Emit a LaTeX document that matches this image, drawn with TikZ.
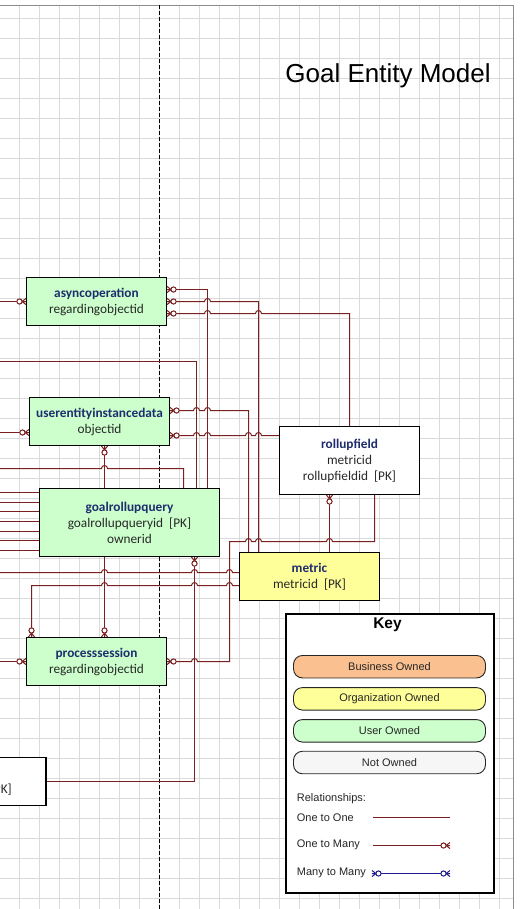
\documentclass[tikz,border=0pt]{standalone}
\usepackage{fontspec}
\setmainfont{Carlito}
\newfontfamily\arialf{Liberation Sans}
\usetikzlibrary{calc}

\definecolor{relc}{RGB}{122,32,32}
\definecolor{navy}{RGB}{31,45,110}
\definecolor{ugreen}{RGB}{204,255,204}
\definecolor{oyellow}{RGB}{255,255,153}
\definecolor{borange}{RGB}{250,192,144}
\definecolor{nowhite}{RGB}{246,246,246}
\definecolor{gridc}{RGB}{218,218,218}
\definecolor{fieldc}{RGB}{40,40,40}
\definecolor{kblue}{RGB}{30,30,140}

\newcommand{\J}[2]{-- ({#1-3},#2) arc[start angle=180,end angle=360,radius=3]}

\tikzset{
  relline/.style={draw=relc, line width=1bp},
  gridline/.style={draw=gridc, line width=0.7bp},
  ent/.style={draw=black, line width=1.1bp, inner sep=0pt, align=center, text=fieldc,
              font=\fontsize{13.3bp}{16bp}\selectfont},
  pill/.style={draw=black!85, line width=0.9bp, rounded corners=9bp, minimum width=192bp,
               minimum height=22.5bp, inner sep=0pt, text=black!85,
               font=\arialf\fontsize{11bp}{13bp}\selectfont},
  keytext/.style={anchor=west, inner sep=0pt, text=black!85,
               font=\arialf\fontsize{11bp}{13bp}\selectfont},
  many/.pic={
    \draw[draw=relc, line width=1bp] (4,0) -- (0,-3) (4,0) -- (0,3) (0,0) -- (4,0);
    \draw[draw=relc, line width=1bp, fill=white] (6.5,0) circle[radius=2.6];
  },
  manyb/.pic={
    \draw[draw=kblue, line width=1bp] (4,0) -- (0,-3) (4,0) -- (0,3) (0,0) -- (4,0);
    \draw[draw=kblue, line width=1bp, fill=white] (6.5,0) circle[radius=2.6];
  }
}

\newcommand{\ttl}[1]{\textcolor{navy}{\textbf{#1}}}

\begin{document}
\begin{tikzpicture}[x=1bp,y=-1bp]
\path[use as bounding box] (0,0) rectangle (524,909);
\clip (0,0) rectangle (524,909);
\fill[white] (0,0) rectangle (524,909);

% grid
\foreach \i in {0,...,24} { \draw[gridline] ({19.5+20*\i},5) -- ({19.5+20*\i},909); }
\foreach \j in {0,...,44} { \draw[gridline] (0,{18.5+20*\j}) -- (513,{18.5+20*\j}); }
\draw[draw=black!45, line width=0.8bp] (0,5.5) -- (513.5,5.5) -- (513.5,909);
% page break
\draw[black, line width=0.8bp, dash pattern=on 4bp off 2bp] (159.5,5) -- (159.5,909);

% title
\node[font=\arialf\fontsize{26bp}{30bp}\selectfont, inner sep=0pt] (T) at (388,76) {Goal Entity Model};

% entities
\node[ent, fill=ugreen, minimum width=140bp, minimum height=48bp] (AO) at (96.5,301.5)
  {\ttl{asyncoperation}\\regardingobjectid};
\node[ent, fill=ugreen, minimum width=140bp, minimum height=48bp] (UE) at (99.5,421.5)
  {\ttl{userentityinstancedata}\\objectid};
\node[ent, fill=ugreen, minimum width=180bp, minimum height=68bp] (GR) at (129.5,522.5)
  {\ttl{goalrollupquery}\\goalrollupqueryid~~[PK]\\ownerid};
\node[ent, fill=oyellow, minimum width=140bp, minimum height=48bp] (ME) at (309.5,576.5)
  {\ttl{metric}\\metricid~~[PK]};
\node[ent, fill=white, minimum width=140bp, minimum height=68bp] (RF) at (349.5,460.5)
  {\ttl{rollupfield}\\metricid\\rollupfieldid~~[PK]};
\node[ent, fill=ugreen, minimum width=140bp, minimum height=48bp] (PS) at (96.5,661.5)
  {\ttl{processsession}\\regardingobjectid};
\node[ent, fill=white, minimum width=200bp, minimum height=48bp, anchor=east] (SU) at (46.5,781.5) {};
\node[anchor=east, inner sep=0pt, text=fieldc, font=\fontsize{13.3bp}{16bp}\selectfont] (SUt) at (12,789.5) {[PK]};

% off-page ends
\coordinate (L1) at (0,301.5);
\coordinate (L2) at (0,361.5);
\coordinate (L3) at (0,432.5);
\coordinate (L4) at (0,468.5);
\coordinate (L12) at (0,572.5);
\coordinate (L13) at (0,661.5);

% connectors
\draw[relline] (L1) -- (AO.west |- L1);
\draw[relline] (AO.east |- 0,289.5) -| (207.5,0 |- GR.north);
\draw[relline] (AO.east |- 0,301.5) \J{207.5}{301.5} -| (258.5,0 |- ME.north);
\draw[relline] (AO.east |- 0,313.5) \J{207.5}{313.5} \J{258.5}{313.5} -| (RF.north);
\draw[relline] (L2) -| (196.5,0 |- GR.north);
\draw[relline] (L3) -- (UE.west |- L3);
\draw[relline] (UE.east |- 0,410.5) \J{196.5}{410.5} \J{207.5}{410.5} -| (248.5,0 |- ME.north);
\draw[relline] (UE.east |- 0,435.5) \J{196.5}{435.5} \J{207.5}{435.5} \J{248.5}{435.5} \J{258.5}{435.5} -- (RF.west |- 0,435.5);
\draw[relline] (104.5,0 |- UE.south) -- (104.5,0 |- GR.north);
\draw[relline] (L4) \J{104.5}{468.5} -| (183.5,0 |- GR.north);
\foreach \yy [count=\k] in {492.5,502.5,511.5,521.5,531.5,540.5,550.5} {
  \coordinate (G\k) at (0,\yy);
  \draw[relline] (G\k) -- (GR.west |- G\k);
}
\draw[relline] (104.5,0 |- GR.south) -- (104.5,0 |- PS.north);
\draw[relline] (194.5,0 |- GR.south) |- (SU.east);
\draw[relline] (L12) \J{104.5}{572.5} \J{194.5}{572.5} \J{229.5}{572.5} -- (ME.west |- L12);
\draw[relline] (31.5,0 |- PS.north) -- (31.5,585.5) \J{104.5}{585.5} \J{194.5}{585.5} \J{229.5}{585.5} -- (ME.west |- 0,585.5);
\draw[relline] (L13) -- (PS.west);
\draw[relline] (PS.east) \J{194.5}{661.5} -- (229.5,661.5) -- (229.5,541.5) \J{248.5}{541.5} \J{258.5}{541.5} \J{329.5}{541.5} -| (374.5,0 |- RF.south);
\draw[relline] (329.5,0 |- RF.south) -- (329.5,0 |- ME.north);

% many markers
\pic[rotate=180] at (AO.west |- L1) {many};
\pic at (AO.east |- 0,289.5) {many};
\pic at (AO.east |- 0,301.5) {many};
\pic at (AO.east |- 0,313.5) {many};
\pic[rotate=180] at (UE.west |- L3) {many};
\pic at (UE.east |- 0,410.5) {many};
\pic at (UE.east |- 0,435.5) {many};
\pic[rotate=-90] at (104.5,0 |- UE.south) {many};
\pic[rotate=90] at (104.5,0 |- PS.north) {many};
\pic[rotate=90] at (31.5,0 |- PS.north) {many};
\pic[rotate=-90] at (194.5,0 |- GR.south) {many};
\pic[rotate=180] at (PS.west) {many};
\pic at (PS.east) {many};
\pic[rotate=-90] at (329.5,0 |- RF.south) {many};

% key
\node[draw=black, line width=2bp, fill=white, minimum width=208bp, minimum height=279bp,
      anchor=north west, inner sep=0pt] (KEY) at (285,613.3) {};
\node[font=\arialf\bfseries\fontsize{15.5bp}{18bp}\selectfont, inner sep=0pt] (KT) at (387.5,625) {Key};
\node[pill, fill=borange] (KB) at (389.5,666.7) {Business Owned};
\node[pill, fill=oyellow] (KO) at (389.5,698.8) {Organization Owned};
\node[pill, fill=ugreen] (KU) at (389.5,730.8) {User Owned};
\node[pill, fill=nowhite] (KN) at (389.5,762.5) {Not Owned};
\node[keytext] (KR) at (296.7,798.3) {Relationships:};
\node[keytext] (K1) at (296.7,817.7) {One to One};
\node[keytext] (K2) at (296.7,845) {One to Many};
\node[keytext] (K3) at (296.7,873.3) {Many to Many};
\coordinate (A1) at (373.3,817.5); \coordinate (B1) at (450,817.5);
\coordinate (A2) at (373.3,845.5);   \coordinate (B2) at (450,845.5);
\coordinate (A3) at (372,873.5);   \coordinate (B3) at (450,873.5);
\draw[relline] (A1) -- (B1);
\draw[relline] (A2) -- (B2);
\pic[rotate=180] at (B2) {many};
\draw[draw=kblue, line width=1bp] (A3) -- (B3);
\pic at (A3) {manyb};
\pic[rotate=180] at (B3) {manyb};
\end{tikzpicture}
\end{document}
